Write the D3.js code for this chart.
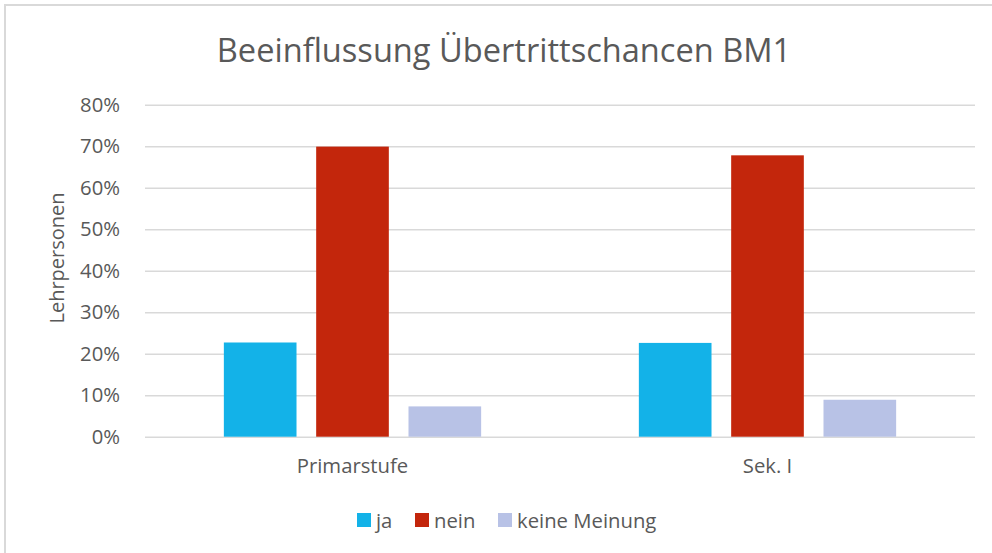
<!DOCTYPE html>
<html>
<head>
<meta charset="utf-8">
<script src="https://cdn.jsdelivr.net/npm/d3@7"></script>
<style>
  html, body { margin: 0; padding: 0; background: #fff; }
  body { width: 992px; height: 553px; overflow: hidden; }
  text { font-family: "Open Sans", "Noto Sans", sans-serif; fill: #595959; }
</style>
</head>
<body>
<svg></svg>
<script>
// data
const categories = ["Primarstufe", "Sek. I"];
const seriesNames = ["ja", "nein", "keine Meinung"];
const seriesColors = ["#13b2e8", "#c3260c", "#b8c2e6"];
const ja = [0.227, 0.226];
const nein = [0.699, 0.678];
const keineMeinung = [0.073, 0.089];
const yTicks = [0, 0.1, 0.2, 0.3, 0.4, 0.5, 0.6, 0.7, 0.8];

const W = 992, H = 553;
const plot = { left: 145, right: 975, top: 104.7, bottom: 436.7 };
const labelSize = 20.3;

const rows = categories.map((c, i) => ({
  cat: c,
  vals: [ja[i], nein[i], keineMeinung[i]]
}));

const svg = d3.select('svg')
  .attr('width', W)
  .attr('height', H);

// chart frame (right/bottom edges fall outside the picture)
svg.append('rect')
  .attr('x', 5).attr('y', 5)
  .attr('width', W + 10).attr('height', H + 10)
  .attr('fill', '#fff')
  .attr('stroke', '#d9d9d9')
  .attr('stroke-width', 2);

const y = d3.scaleLinear().domain([0, 0.8]).range([plot.bottom, plot.top]);
const x0 = d3.scaleBand().domain(categories)
  .range([plot.left, plot.right])
  .paddingInner(0.38).paddingOuter(0.19);
const x1 = d3.scaleBand().domain(seriesNames)
  .range([0, x0.bandwidth()])
  .paddingInner(0.213).paddingOuter(0);

// gridlines + y tick labels
const yAxis = d3.axisLeft(y)
  .tickValues(yTicks)
  .tickSize(-(plot.right - plot.left))
  .tickPadding(25)
  .tickFormat(d3.format('.0%'));

const ya = svg.append('g')
  .attr('transform', `translate(${plot.left},0)`)
  .call(yAxis);
ya.select('.domain').remove();
ya.selectAll('.tick line').attr('stroke', '#d9d9d9').attr('stroke-width', 1.5);
ya.selectAll('.tick text')
  .attr('font-size', labelSize)
  .attr('fill', '#595959')
  .style('font-family', '"Open Sans", sans-serif');

// bars
const groups = svg.append('g').selectAll('g.cat')
  .data(rows).enter().append('g')
  .attr('class', 'cat')
  .attr('transform', d => `translate(${x0(d.cat)},0)`);

groups.selectAll('rect')
  .data(d => d.vals.map((v, i) => ({ name: seriesNames[i], v: v, i: i })))
  .enter().append('rect')
  .attr('x', d => x1(d.name))
  .attr('width', x1.bandwidth())
  .attr('y', d => y(d.v))
  .attr('height', d => y(0) - y(d.v))
  .attr('fill', d => seriesColors[d.i]);

// x labels
const xAxis = d3.axisBottom(x0).tickSize(0).tickPadding(22);
const xa = svg.append('g')
  .attr('transform', `translate(0,${plot.bottom})`)
  .call(xAxis);
xa.select('.domain').remove();
xa.selectAll('.tick text')
  .attr('font-size', labelSize)
  .attr('fill', '#595959')
  .style('font-family', '"Open Sans", sans-serif');

// title
svg.append('text')
  .attr('x', 504).attr('y', 62)
  .attr('text-anchor', 'middle')
  .attr('font-size', 32.6)
  .text('Beeinflussung Übertrittschancen BM1');

// y axis label
svg.append('text')
  .attr('transform', 'translate(64,258) rotate(-90)')
  .attr('text-anchor', 'middle')
  .attr('font-size', 20)
  .text('Lehrpersonen');

// legend
const legendX = [357, 415, 498];
const lg = svg.append('g').selectAll('g.leg')
  .data(seriesNames).enter().append('g')
  .attr('class', 'leg')
  .attr('transform', (d, i) => `translate(${legendX[i]},513)`);
lg.append('rect')
  .attr('width', 14).attr('height', 14)
  .attr('fill', (d, i) => seriesColors[i]);
lg.append('text')
  .attr('x', 19).attr('y', 14.5)
  .attr('font-size', labelSize)
  .text(d => d);
</script>
</body>
</html>
